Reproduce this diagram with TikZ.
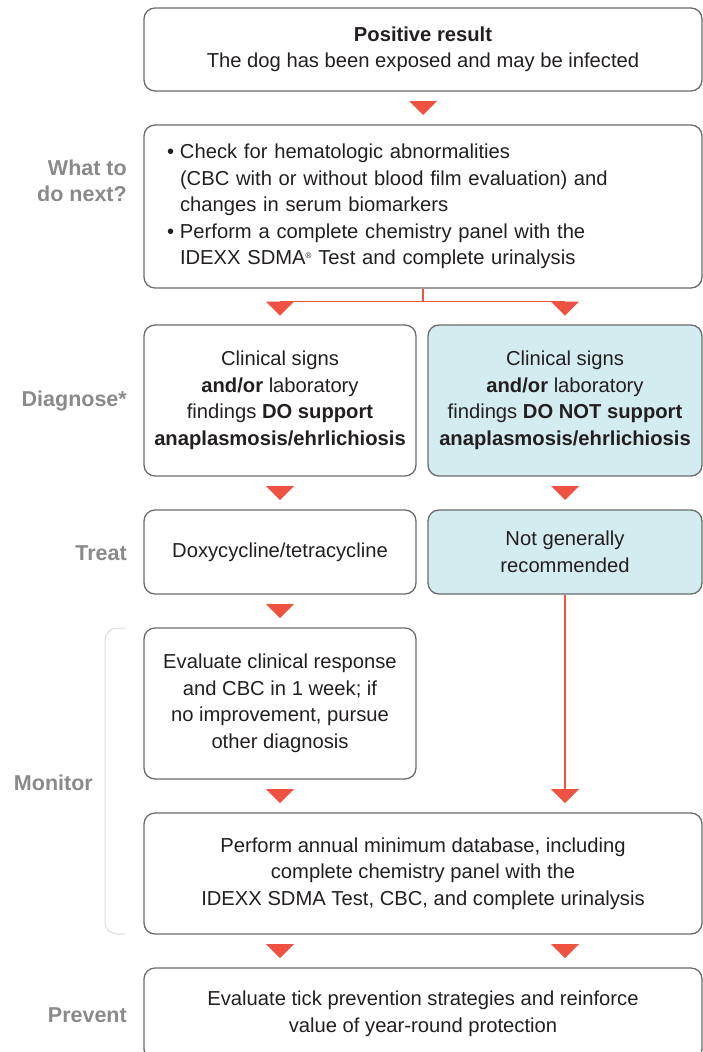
\documentclass[tikz,border=0pt]{standalone}
\usepackage{fontspec}
\setmainfont{Liberation Sans}
\usetikzlibrary{calc}
\definecolor{redc}{HTML}{EF5240}
\definecolor{cyanc}{HTML}{D3ECEF}
\definecolor{linec}{HTML}{6B6B6B}
\definecolor{labc}{HTML}{8A8A8A}
\definecolor{txtc}{HTML}{231F20}
\definecolor{brc}{HTML}{DDDDDD}
\newcommand\dtri[1]{\fill[redc] (#1) ++(-14,-7) -- ++(28,0) -- ++(-14,14) -- cycle;}
\begin{document}
\begin{tikzpicture}[x=1pt,y=-1pt,
 box/.style={draw=linec, line width=1.3pt, rounded corners=11pt, align=center, inner sep=0pt, font=\fontsize{20.2}{26.5}\selectfont, text=txtc},
 lab/.style={anchor=east, align=right, text=labc, font=\bfseries\fontsize{21.5}{26.5}\selectfont, inner sep=0pt},
 redline/.style={draw=redc, line width=1.3pt}]
\useasboundingbox (0,0) rectangle (703,1052);
\clip (0,0) rectangle (703,1052);

\node[box, minimum width=558, minimum height=83] (b1) at (423,49.5) {\textbf{Positive result}\\The dog has been exposed and may be infected};
\node[box, minimum width=558, minimum height=163, text width=512, align=left] (b2) at (423,206.5) {%
\makebox[13pt][l]{\textbullet}Check for hematologic abnormalities\\
\hspace*{13pt}(CBC with or without blood film evaluation) and\\
\hspace*{13pt}changes in serum biomarkers\\
\makebox[13pt][l]{\textbullet}Perform a complete chemistry panel with the\\
\hspace*{13pt}IDEXX SDMA\raisebox{6pt}{\fontsize{8}{8}\selectfont ®} Test and complete urinalysis};
\node[box, minimum width=272, minimum height=151] (b3L) at (280,400.5) {Clinical signs\\\textbf{and/or} laboratory\\findings \textbf{DO support}\\\textbf{anaplasmosis/ehrlichiosis}};
\node[box, fill=cyanc, minimum width=274, minimum height=151] (b3R) at (565,400.5) {Clinical signs\\\textbf{and/or} laboratory\\findings \textbf{DO NOT support}\\\textbf{anaplasmosis/ehrlichiosis}};
\node[box, minimum width=272, minimum height=84] (b4L) at (280,552) {Doxycycline/tetracycline};
\node[box, fill=cyanc, minimum width=274, minimum height=84] (b4R) at (565,552) {Not generally\\recommended};
\node[box, minimum width=272, minimum height=151] (b5) at (280,703.5) {Evaluate clinical response\\and CBC in 1 week; if\\no improvement, pursue\\other diagnosis};
\node[box, minimum width=558, minimum height=121] (b6) at (423,873.5) {Perform annual minimum database, including\\complete chemistry panel with the\\IDEXX SDMA Test, CBC, and complete urinalysis};
\node[box, minimum width=558, minimum height=92] (b7) at (423,1014) {Evaluate tick prevention strategies and reinforce\\value of year-round protection};

% labels
\node[lab] (l1) at (127,181) {What to\\do next?};
\node[lab] (l2) at (127,401) {Diagnose*};
\node[lab] (l3) at (127,553) {Treat};
\node[lab] (l4) at (93,783) {Monitor};
\node[lab] (l5) at (127,1015) {Prevent};
\draw[brc, line width=1pt, rounded corners=12pt] (125,628) -- (105,628) -- (105,934) -- (125,934);

% connectors
\coordinate (t1) at ($(b1.south)!0.5!(b2.north)$);
\dtri{t1}
\draw[redline] (b2.south) -- ++(0,13) coordinate (split);
\draw[redline] (split -| b3L.north) -- (split -| b3R.north);
\coordinate (t2L) at ($(split -| b3L.north)+(0,7)$);
\coordinate (t2R) at ($(split -| b3R.north)+(0,7)$);
\dtri{t2L}\dtri{t2R}
\coordinate (t3L) at ($(b3L.south)!0.5!(b4L.north)$);
\coordinate (t3R) at ($(b3R.south)!0.5!(b4R.north)$);
\dtri{t3L}\dtri{t3R}
\coordinate (t4L) at ($(b4L.south)!0.5!(b5.north)$);
\dtri{t4L}
\coordinate (t5) at ($(b5.south)!0.5!(b6.north)$);
\coordinate (t5L) at (t5 -| b5.south);
\coordinate (t5R) at (t5 -| b4R.south);
\draw[redline] (b4R.south) -- ($(t5R)+(0,-7)$);
\dtri{t5L}\dtri{t5R}
\coordinate (t6) at ($(b6.south)!0.5!(b7.north)$);
\coordinate (t6L) at (t6 -| b3L.south);
\coordinate (t6R) at (t6 -| b3R.south);
\dtri{t6L}\dtri{t6R}
\end{tikzpicture}
\end{document}
